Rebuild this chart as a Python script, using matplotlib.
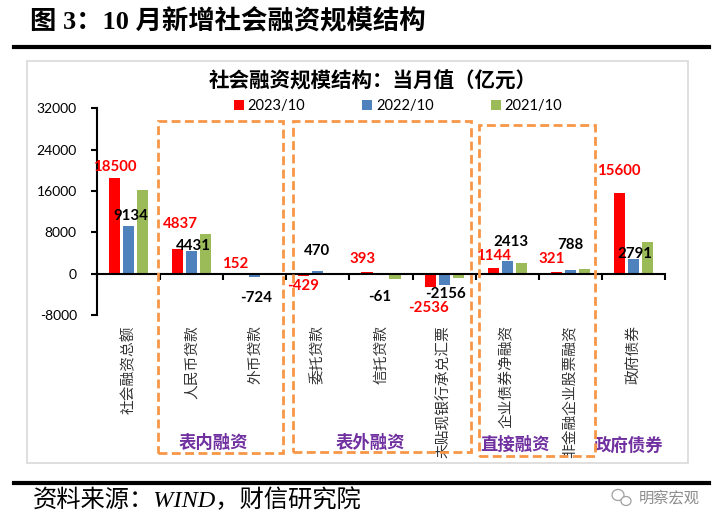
import matplotlib
matplotlib.use("Agg")
import matplotlib.pyplot as plt
import matplotlib.patches as patches
import numpy as np

plt.rcParams['font.family'] = ['Lato', 'Noto Sans CJK SC']

# data (亿元)
categories = ['社会融资总额', '人民币贷款', '外币贷款', '委托贷款', '信托贷款',
              '未贴现银行承兑汇票', '企业债券净融资', '非金融企业股票融资', '政府债券']
series_names = ['2023/10', '2022/10', '2021/10']
vals_2023 = [18500, 4837, 152, -429, 393, -2536, 1144, 321, 15600]
vals_2022 = [9134, 4431, -724, 470, -61, -2156, 2413, 788, 2791]
vals_2021 = [16200, 7752, -60, -150, -1000, -800, 2150, 900, 6200]
yticks = [-8000, 0, 8000, 16000, 24000, 32000]
groups = ['表内融资', '表外融资', '直接融资', '政府债券']

colors = ['#FF0000', '#4F81BD', '#9BBB59']

# hand-placed label nudges in px (dx, dy), as in the source chart
off_2023 = [(0, 11), (2.5, 25), (-6, 9), (-1, -10.5), (-4, 12.7), (-1.4, -21), (0, 12), (-4.5, 13), (-1, 21.7)]
off_2022 = [(2.3, 10), (1.4, 5), (1.6, -20.6), (-1, 20), (-1, -23), (1, -9), (3.8, 18.8), (0, 24.2), (1.4, 5.6)]

W, H = 724, 529
fig = plt.figure(figsize=(W / 100, H / 100), dpi=100)

def fx(px):
    return px / W

def fy(py):
    return 1 - py / H

ax = fig.add_axes([fx(97), fy(315), fx(665) - fx(97), fy(108.3) - fy(315)])

x = np.arange(len(categories))
bw = 0.175
step = 0.222
for k, (vals, c, name) in enumerate(zip([vals_2023, vals_2022, vals_2021], colors, series_names)):
    ax.bar(x + (k - 1) * step, vals, width=bw, color=c, label=name, zorder=2)

ax.set_xlim(-0.5, len(categories) - 0.5)
ax.set_ylim(-8000, 32000)
ax.set_yticks(yticks)
ax.set_yticklabels([str(v) for v in yticks], fontsize=10)
ax.tick_params(axis='y', direction='out', length=4.5, width=1.5, pad=10)
ax.set_xticks(np.arange(len(categories) + 1) - 0.5)
ax.set_xticklabels([])
ax.tick_params(axis='x', direction='out', length=4.5, width=1.5)

for s in ['top', 'right']:
    ax.spines[s].set_visible(False)
ax.spines['bottom'].set_position(('data', 0))
ax.spines['bottom'].set_linewidth(1.5)
ax.spines['left'].set_linewidth(1.5)
ax.patch.set_alpha(0)

# data labels
px2pt = 0.72
for k, (vals, offs, col) in enumerate([(vals_2023, off_2023, '#FF0000'), (vals_2022, off_2022, 'black')]):
    for i, (v, (dx, dy)) in enumerate(zip(vals, offs)):
        ax.annotate(str(v), xy=(i + (k - 1) * step, v), xytext=(dx * px2pt, dy * px2pt),
                    textcoords='offset points', ha='center', va='center',
                    fontsize=10.8, fontweight='bold', color=col, zorder=5)

# category labels (vertical)
for i, name in enumerate(categories):
    ax.annotate(name, xy=(i, 0), xycoords=('data', 'axes fraction'),
                xytext=(0, -7.2), textcoords='offset points',
                rotation=90, ha='center', va='top', fontsize=10.6,
                family=['Noto Sans CJK SC'], color='#333333')

ax.legend(loc='center', bbox_to_anchor=(fx(398), fy(106)), bbox_transform=fig.transFigure,
          ncol=3, frameon=False, fontsize=10.5, handlelength=0.7, handleheight=0.7,
          handletextpad=0.25, columnspacing=3.9, borderpad=0)

# chart frame
fig.patches.append(patches.Rectangle((fx(27), fy(463)), fx(688) - fx(27), fy(61) - fy(463),
                                     transform=fig.transFigure, fill=False,
                                     edgecolor='#D9D9D9', lw=1.2))

fig.text(fx(373), fy(81), '社会融资规模结构：当月值（亿元）', ha='center', va='center',
         fontsize=14.8, fontweight='bold', family=['Noto Sans CJK SC'])

# dashed group boxes
boxes = [(158.3, 121, 283, 453.3), (293.3, 121, 471, 452.3), (479, 125, 595, 455.7)]
for (x0, y0, x1, y1) in boxes:
    fig.patches.append(patches.Rectangle((fx(x0), fy(y1)), fx(x1) - fx(x0), fy(y0) - fy(y1),
                                         transform=fig.transFigure, fill=False,
                                         edgecolor='#F79646', lw=2, linestyle=(0, (3.2, 1.6)),
                                         zorder=6))

group_pos = [(213, 443), (370, 443), (515, 445), (628, 446)]
for g, (gx, gy) in zip(groups, group_pos):
    fig.text(fx(gx), fy(gy), g, ha='center', va='center', fontsize=12.5,
             fontweight='bold', color='#7030A0', family=['Noto Sans CJK SC'])

# page title, rules and source
fig.text(fx(30), fy(21), '图 3：10 月新增社会融资规模结构', ha='left', va='center',
         fontsize=19, fontweight='bold', family=['Liberation Serif', 'Noto Sans CJK SC'])
fig.add_artist(plt.Line2D([fx(14), fx(709)], [fy(47), fy(47)], color='black', lw=3,
                          transform=fig.transFigure))
fig.add_artist(plt.Line2D([fx(14), fx(709)], [fy(483), fy(483)], color='black', lw=3,
                          transform=fig.transFigure))
fig.text(fx(33), fy(500), '资料来源：WIND，财信研究院', ha='left', va='center',
         fontsize=17.5, style='italic', family=['Liberation Serif', 'Noto Sans CJK SC'])

# watermark
fig.text(fx(700), fy(498), '明察宏观', ha='right', va='center', fontsize=11,
         color='#8C8C8C', family=['Noto Sans CJK SC'])
fig.patches.append(patches.Ellipse((fx(618), fy(495)), fx(12), 11 / H, transform=fig.transFigure,
                                   fill=False, edgecolor='#A0A0A0', lw=0.9))
fig.patches.append(patches.Ellipse((fx(626), fy(501)), fx(10), 9 / H, transform=fig.transFigure,
                                   facecolor='white', edgecolor='#A0A0A0', lw=0.9))

fig.savefig('out.png', dpi=100)
